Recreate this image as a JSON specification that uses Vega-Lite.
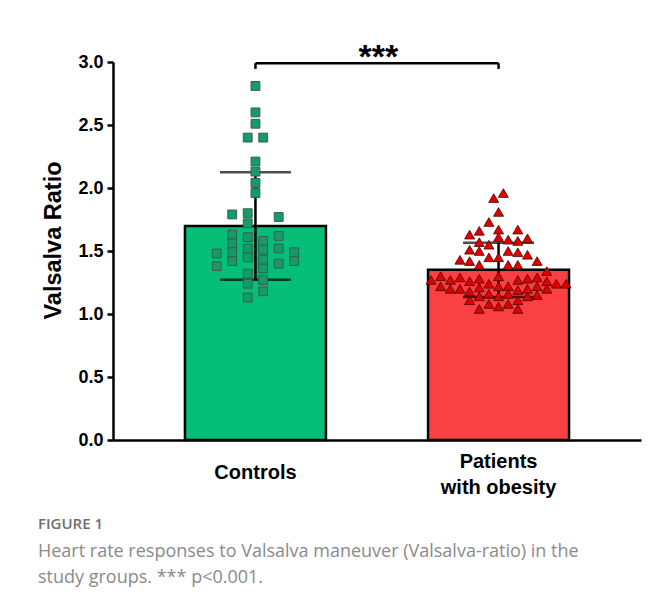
{
  "$schema": "https://vega.github.io/schema/vega-lite/v6.json",
  "width": 528,
  "height": 378,
  "autosize": {"type": "none"},
  "padding": {"left": 113, "top": 62, "right": 7, "bottom": 164},
  "background": "white",
  "config": {
    "view": {"stroke": null},
    "font": "Liberation Sans"
  },
  "title": {
    "text": "FIGURE 1",
    "subtitle": ["Heart rate responses to Valsalva maneuver (Valsalva-ratio) in the", "study groups. *** p<0.001."],
    "orient": "bottom",
    "anchor": "start",
    "frame": "bounds",
    "offset": 20,
    "dx": -4,
    "font": "Open Sans",
    "fontSize": 15,
    "fontWeight": 600,
    "color": "#6e6e6e",
    "subtitleFont": "Open Sans",
    "subtitleFontSize": 18,
    "subtitleColor": "#8a8a8a",
    "subtitleLineHeight": 26,
    "subtitlePadding": 11
  },
  "datasets": {
    "pts": [
      {"g": "Controls", "c": 0, "v": 2.81},
      {"g": "Controls", "c": 0, "v": 2.60},
      {"g": "Controls", "c": 0, "v": 2.51},
      {"g": "Controls", "c": -1, "v": 2.40},
      {"g": "Controls", "c": 1, "v": 2.40},
      {"g": "Controls", "c": 0, "v": 2.21},
      {"g": "Controls", "c": 0, "v": 2.13},
      {"g": "Controls", "c": 0, "v": 2.04},
      {"g": "Controls", "c": 0, "v": 1.96},
      {"g": "Controls", "c": -3, "v": 1.79},
      {"g": "Controls", "c": -1, "v": 1.80},
      {"g": "Controls", "c": 3, "v": 1.77},
      {"g": "Controls", "c": -1, "v": 1.72},
      {"g": "Controls", "c": -3, "v": 1.63},
      {"g": "Controls", "c": -3, "v": 1.56},
      {"g": "Controls", "c": -3, "v": 1.49},
      {"g": "Controls", "c": -3, "v": 1.42},
      {"g": "Controls", "c": -5, "v": 1.48},
      {"g": "Controls", "c": -5, "v": 1.38},
      {"g": "Controls", "c": -1, "v": 1.61},
      {"g": "Controls", "c": -1, "v": 1.52},
      {"g": "Controls", "c": -1, "v": 1.45},
      {"g": "Controls", "c": -1, "v": 1.32},
      {"g": "Controls", "c": -1, "v": 1.24},
      {"g": "Controls", "c": -1, "v": 1.13},
      {"g": "Controls", "c": 1, "v": 1.58},
      {"g": "Controls", "c": 1, "v": 1.51},
      {"g": "Controls", "c": 1, "v": 1.43},
      {"g": "Controls", "c": 1, "v": 1.36},
      {"g": "Controls", "c": 1, "v": 1.27},
      {"g": "Controls", "c": 1, "v": 1.18},
      {"g": "Controls", "c": 3, "v": 1.62},
      {"g": "Controls", "c": 3, "v": 1.52},
      {"g": "Controls", "c": 3, "v": 1.40},
      {"g": "Controls", "c": 5, "v": 1.49},
      {"g": "Controls", "c": 5, "v": 1.42},
      {"g": "Patients with obesity", "c": 0.5, "v": 1.96},
      {"g": "Patients with obesity", "c": -0.5, "v": 1.92},
      {"g": "Patients with obesity", "c": 0, "v": 1.81},
      {"g": "Patients with obesity", "c": -1, "v": 1.73},
      {"g": "Patients with obesity", "c": -2, "v": 1.66},
      {"g": "Patients with obesity", "c": -3, "v": 1.63},
      {"g": "Patients with obesity", "c": 0, "v": 1.67},
      {"g": "Patients with obesity", "c": 2, "v": 1.67},
      {"g": "Patients with obesity", "c": -2, "v": 1.57},
      {"g": "Patients with obesity", "c": -1, "v": 1.55},
      {"g": "Patients with obesity", "c": 0, "v": 1.61},
      {"g": "Patients with obesity", "c": 1, "v": 1.59},
      {"g": "Patients with obesity", "c": 2, "v": 1.58},
      {"g": "Patients with obesity", "c": 3, "v": 1.60},
      {"g": "Patients with obesity", "c": -3, "v": 1.51},
      {"g": "Patients with obesity", "c": -2, "v": 1.50},
      {"g": "Patients with obesity", "c": 1, "v": 1.50},
      {"g": "Patients with obesity", "c": 2, "v": 1.49},
      {"g": "Patients with obesity", "c": 3, "v": 1.47},
      {"g": "Patients with obesity", "c": -4, "v": 1.43},
      {"g": "Patients with obesity", "c": -3, "v": 1.42},
      {"g": "Patients with obesity", "c": -1, "v": 1.45},
      {"g": "Patients with obesity", "c": 0, "v": 1.45},
      {"g": "Patients with obesity", "c": -2, "v": 1.39},
      {"g": "Patients with obesity", "c": 1, "v": 1.39},
      {"g": "Patients with obesity", "c": 2, "v": 1.39},
      {"g": "Patients with obesity", "c": 4, "v": 1.42},
      {"g": "Patients with obesity", "c": 5, "v": 1.34},
      {"g": "Patients with obesity", "c": -7, "v": 1.27},
      {"g": "Patients with obesity", "c": -6, "v": 1.30},
      {"g": "Patients with obesity", "c": -5, "v": 1.27},
      {"g": "Patients with obesity", "c": -4, "v": 1.29},
      {"g": "Patients with obesity", "c": -3, "v": 1.26},
      {"g": "Patients with obesity", "c": -2, "v": 1.28},
      {"g": "Patients with obesity", "c": -1, "v": 1.24},
      {"g": "Patients with obesity", "c": 0, "v": 1.30},
      {"g": "Patients with obesity", "c": 1, "v": 1.22},
      {"g": "Patients with obesity", "c": 2, "v": 1.27},
      {"g": "Patients with obesity", "c": 3, "v": 1.28},
      {"g": "Patients with obesity", "c": 4, "v": 1.29},
      {"g": "Patients with obesity", "c": 5, "v": 1.26},
      {"g": "Patients with obesity", "c": 6, "v": 1.24},
      {"g": "Patients with obesity", "c": 7, "v": 1.24},
      {"g": "Patients with obesity", "c": -6, "v": 1.22},
      {"g": "Patients with obesity", "c": -5, "v": 1.20},
      {"g": "Patients with obesity", "c": -4, "v": 1.20},
      {"g": "Patients with obesity", "c": -3, "v": 1.18},
      {"g": "Patients with obesity", "c": -2, "v": 1.21},
      {"g": "Patients with obesity", "c": -1, "v": 1.16},
      {"g": "Patients with obesity", "c": 0, "v": 1.22},
      {"g": "Patients with obesity", "c": 1, "v": 1.16},
      {"g": "Patients with obesity", "c": 2, "v": 1.19},
      {"g": "Patients with obesity", "c": 3, "v": 1.20},
      {"g": "Patients with obesity", "c": 4, "v": 1.22},
      {"g": "Patients with obesity", "c": 5, "v": 1.20},
      {"g": "Patients with obesity", "c": -3, "v": 1.11},
      {"g": "Patients with obesity", "c": -2, "v": 1.14},
      {"g": "Patients with obesity", "c": -1, "v": 1.08},
      {"g": "Patients with obesity", "c": 0, "v": 1.14},
      {"g": "Patients with obesity", "c": 1, "v": 1.08},
      {"g": "Patients with obesity", "c": 2, "v": 1.11},
      {"g": "Patients with obesity", "c": 3, "v": 1.14},
      {"g": "Patients with obesity", "c": 4, "v": 1.15},
      {"g": "Patients with obesity", "c": -2, "v": 1.04},
      {"g": "Patients with obesity", "c": 0, "v": 1.06},
      {"g": "Patients with obesity", "c": 2, "v": 1.04}
    ]
  },
  "resolve": {"scale": {"xOffset": "independent"}},
  "layer": [
    {
      "data": {"name": "pts"},
      "mark": {"type": "bar", "stroke": "black", "strokeWidth": 2.5},
      "encoding": {
        "x": {
          "field": "g", "type": "nominal", "sort": ["Controls", "Patients with obesity"],
          "scale": {"paddingInner": 0.42, "paddingOuter": 0.296},
          "axis": {
            "title": null, "labelAngle": 0, "ticks": false,
            "labelFont": "Liberation Sans", "labelFontWeight": "bold", "labelFontSize": 20,
            "labelColor": "black",
            "labelPadding": {"condition": {"test": "datum.value == 'Patients with obesity'", "value": 21}, "value": 32},
            "labelBaseline": "middle", "labelLineHeight": 26,
            "labelExpr": "datum.value == 'Patients with obesity' ? ['Patients', 'with obesity'] : datum.label",
            "domainColor": "black", "domainWidth": 2.5
          }
        },
        "y": {
          "aggregate": "mean", "field": "v", "type": "quantitative",
          "scale": {"domain": [0, 3], "nice": false},
          "axis": {
            "title": "Valsalva Ratio",
            "titleFont": "Liberation Sans", "titleFontWeight": "bold", "titleFontSize": 23.5,
            "titleColor": "black", "titlePadding": 12, "titleY": 178,
            "values": [0, 0.25, 0.5, 0.75, 1, 1.25, 1.5, 1.75, 2, 2.25, 2.5, 2.75, 3],
            "labelExpr": "datum.value % 0.5 === 0 ? format(datum.value, '.1f') : ''",
            "labelFont": "Liberation Sans", "labelFontWeight": "bold", "labelFontSize": 18,
            "labelColor": "black", "labelPadding": 4,
            "tickSize": {"condition": {"test": "datum.value % 0.5 === 0", "value": 6}, "value": 3},
            "tickColor": "black", "tickWidth": 2.5,
            "domainColor": "black", "domainWidth": 2.5,
            "grid": false
          }
        },
        "fill": {
          "field": "g", "type": "nominal",
          "scale": {"domain": ["Controls", "Patients with obesity"], "range": ["#05BF78", "#F94144"]},
          "legend": null
        }
      }
    },
    {
      "data": {"name": "pts"},
      "mark": {"type": "errorbar", "extent": "stdev", "ticks": true, "size": 71, "thickness": 2.5, "color": "black"},
      "encoding": {
        "x": {"field": "g", "type": "nominal"},
        "y": {"field": "v", "type": "quantitative", "title": "Valsalva Ratio"}
      }
    },
    {
      "data": {"name": "pts"},
      "transform": [{"filter": "datum.g == 'Controls'"}],
      "mark": {"type": "point", "shape": "square", "filled": true, "size": 78, "fill": "#139B6B", "stroke": "#3b5c4d", "strokeWidth": 1, "opacity": 1},
      "encoding": {
        "x": {"field": "g", "type": "nominal"},
        "xOffset": {"field": "c", "type": "quantitative", "scale": {"domain": [-9.1, 9.1]}},
        "y": {"field": "v", "type": "quantitative", "title": "Valsalva Ratio"}
      }
    },
    {
      "data": {"name": "pts"},
      "transform": [{"filter": "datum.g == 'Patients with obesity'"}],
      "mark": {"type": "point", "shape": "triangle-up", "filled": true, "size": 100, "fill": "#E00000", "stroke": "#4a0000", "strokeWidth": 0.8, "opacity": 1},
      "encoding": {
        "x": {"field": "g", "type": "nominal"},
        "xOffset": {"field": "c", "type": "quantitative", "scale": {"domain": [-7.31, 7.31]}},
        "y": {"field": "v", "type": "quantitative", "title": "Valsalva Ratio"}
      }
    },
    {
      "data": {"values": [{"a": "Controls", "b": "Patients with obesity", "y": 2.99}]},
      "mark": {"type": "rule", "color": "black", "strokeWidth": 2.5},
      "encoding": {
        "x": {"field": "a", "type": "nominal"},
        "x2": {"field": "b"},
        "y": {"field": "y", "type": "quantitative"}
      }
    },
    {
      "data": {"values": [{"a": "Controls", "y": 2.99, "y2": 2.945}, {"a": "Patients with obesity", "y": 2.99, "y2": 2.945}]},
      "mark": {"type": "rule", "color": "black", "strokeWidth": 2.5},
      "encoding": {
        "x": {"field": "a", "type": "nominal"},
        "y": {"field": "y", "type": "quantitative"},
        "y2": {"field": "y2"}
      }
    },
    {
      "data": {"values": [{"a": "Controls", "y": 3.03, "t": "***"}]},
      "mark": {"type": "text", "font": "Liberation Sans", "fontWeight": "bold", "fontSize": 34, "align": "center", "baseline": "middle", "dx": 123, "color": "black"},
      "encoding": {
        "x": {"field": "a", "type": "nominal"},
        "y": {"field": "y", "type": "quantitative"},
        "text": {"field": "t"}
      }
    }
  ]
}
